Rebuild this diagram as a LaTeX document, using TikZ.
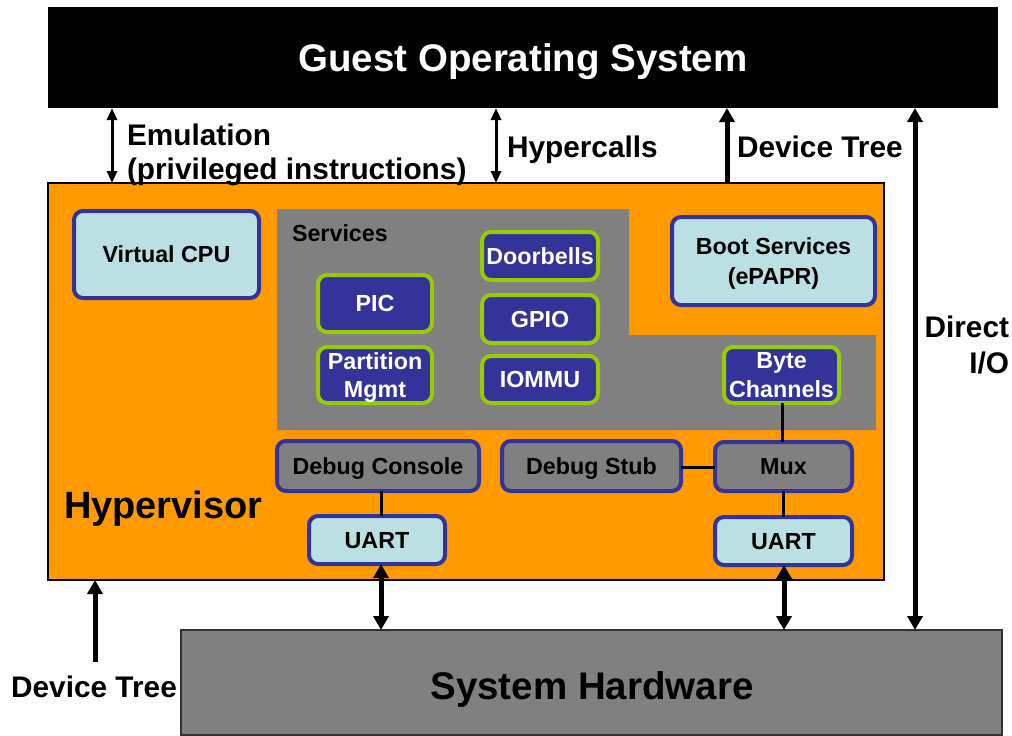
\documentclass[tikz,border=0pt]{standalone}
\usepackage{fontspec}
\setmainfont{Liberation Sans}
\usetikzlibrary{arrows.meta}
\definecolor{hvorange}{HTML}{FF9900}
\definecolor{svcgray}{HTML}{808080}
\definecolor{paleblue}{HTML}{BBE0E3}
\definecolor{navy}{HTML}{333399}
\definecolor{limeedge}{HTML}{99CC00}
\begin{document}
\begin{tikzpicture}[x=1pt,y=-1pt,
  every node/.style={font=\bfseries, inner sep=0pt, outer sep=0pt, text depth=0pt},
  big/.style={font=\fontsize{38.5}{44}\selectfont\bfseries},
  lbl/.style={font=\fontsize{29.8}{34}\selectfont\bfseries},
  small/.style={font=\fontsize{23.3}{28.5}\selectfont\bfseries, align=center},
  boxtext/.style={small, text depth=-4.5pt},
  bluebox/.style={boxtext, draw=navy, line width=4pt, fill=paleblue, rounded corners=9pt},
  svcbox/.style={boxtext, draw=limeedge, line width=4pt, fill=navy, text=white, rounded corners=9pt},
  dbgbox/.style={boxtext, draw=navy, line width=4pt, fill=svcgray, rounded corners=9pt},
  wire/.style={line width=3pt},
  thinarrow/.style={line width=3pt, arrows={Triangle[width=10pt,length=12pt]-Triangle[width=10pt,length=12pt]}},
  thickarrow/.style={line width=5pt},
  bigtip/.tip={Triangle[width=15pt,length=14pt]}
]
\useasboundingbox (0,0) rectangle (1012,736);

% outer layers
\node[fill=black, minimum width=950pt, minimum height=101pt, big, text=white] (guest) at (523,57.5) {Guest Operating System};
\node[draw=black, line width=1.2pt, fill=hvorange, minimum width=836pt, minimum height=397pt] (hyp) at (466,381.5) {};
\node[draw=black!80, line width=1.2pt, fill=svcgray, minimum width=821pt, minimum height=105pt] (hw) at (591.5,682.5) {};
\node[big] (hwlabel) at (592,686) {System Hardware};

% services area
\fill[svcgray] (277,209) -- (629,209) -- (629,335) -- (876,335) -- (876,430) -- (277,430) -- cycle;
\node[small, anchor=west] (svclabel) at (292,233.5) {Services};

% hypervisor components
\node[bluebox, minimum width=185pt, minimum height=87pt] (vcpu) at (166.5,254.5) {Virtual CPU};
\node[bluebox, minimum width=203pt, minimum height=88pt] (boot) at (773.5,261) {Boot Services\\[1.5pt](ePAPR)};

\node[svcbox, minimum width=114pt, minimum height=57pt] (pic) at (375,303.5) {PIC};
\node[svcbox, minimum width=114pt, minimum height=56pt] (pm) at (375,375) {Partition\\Mgmt};
\node[svcbox, minimum width=116pt, minimum height=48pt] (door) at (540,256) {Doorbells};
\node[svcbox, minimum width=116pt, minimum height=48pt] (gpio) at (540,319) {GPIO};
\node[svcbox, minimum width=116pt, minimum height=47pt] (iommu) at (540,379.5) {IOMMU};
\node[svcbox, minimum width=115pt, minimum height=56pt] (byte) at (781.5,375) {Byte\\Channels};

\node[dbgbox, minimum width=202pt, minimum height=50pt] (dcon) at (378,466) {Debug Console};
\node[dbgbox, minimum width=179pt, minimum height=50pt] (dstub) at (591.5,466) {Debug Stub};
\node[dbgbox, minimum width=137pt, minimum height=49pt] (mux) at (783.5,466.5) {Mux};
\node[bluebox, minimum width=136pt, minimum height=48pt] (uartl) at (377,540) {UART};
\node[bluebox, minimum width=137pt, minimum height=48pt] (uartr) at (783.5,541) {UART};

\node[font=\fontsize{38}{42}\selectfont\bfseries, anchor=west] (hvlabel) at (64,505) {Hypervisor};

% internal wiring
\draw[wire] (byte.south -| 782,0) -- (mux.north -| 782,0);
\draw[wire] (dstub.east |- 0,467) -- (mux.west |- 0,467);
\draw[wire] (dcon.south -| 381,0) -- (uartl.north -| 381,0);
\draw[wire] (mux.south -| 783,0) -- (uartr.north -| 783,0);

% interfaces between layers
\draw[thinarrow] (guest.south -| 112,0) -- (hyp.north -| 112,0);
\draw[thinarrow] (guest.south -| 496,0) -- (hyp.north -| 496,0);
\draw[thickarrow, -bigtip] (hyp.north -| 727,0) -- (guest.south -| 727,0);
\draw[thickarrow, bigtip-bigtip] (guest.south -| 915,0) -- (hw.north -| 915,0);
\coordinate (dtfoot) at (95,662);
\draw[thickarrow, -bigtip] (dtfoot) -- (hyp.south -| dtfoot);
\draw[thickarrow, bigtip-bigtip] (uartl.south -| 381,0) -- (hw.north -| 381,0);
\draw[thickarrow, bigtip-bigtip] (uartr.south -| 784,0) -- (hw.north -| 784,0);

% interface labels
\node[lbl, anchor=west, align=left] (emu) at (127,151.5) {Emulation\\(privileged instructions)};
\node[lbl, anchor=west] (hcall) at (507,147) {Hypercalls};
\node[lbl, anchor=west] (dttop) at (737,147) {Device Tree};
\node[lbl, anchor=east, align=right] (dio) at (1009,344.5) {Direct\\[2pt]I/O};
\node[lbl] (dtbot) at (94,687) {Device Tree};
\end{tikzpicture}
\end{document}
